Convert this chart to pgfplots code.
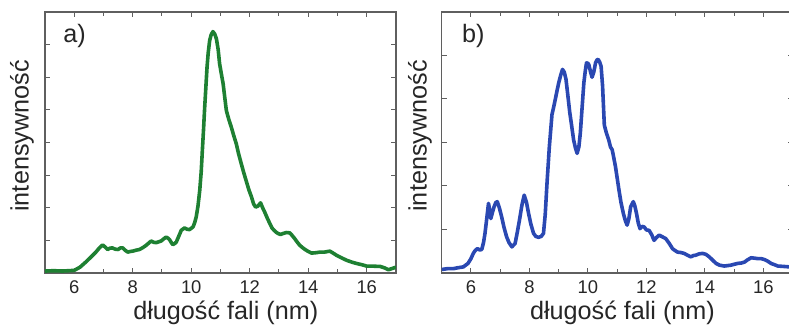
\documentclass[border=0pt]{standalone}
\usepackage{pgfplots}
\pgfplotsset{compat=1.18}
\usepackage{fontspec}
\setmainfont{Liberation Sans}
\definecolor{cgreen}{RGB}{30,128,50}
\definecolor{cblue}{RGB}{42,72,178}
\definecolor{axgray}{RGB}{95,95,95}
\pgfplotsset{
  spec/.style={
    scale only axis, width=175.5pt, height=130.5pt,
    xmin=5, xmax=17, xtick={6,8,...,16}, minor xtick={5,7,...,17},
    ymin=0,
    yticklabels={},
    tick align=inside, major tick length=2.5pt, minor tick length=2pt,
    every tick/.style={axgray, line width=0.5pt},
    axis line style={axgray, line width=0.6pt},
    /pgf/number format/assume math mode=true,
    tick label style={font=\fontsize{9.2}{10}\selectfont, text=black!85},
    xticklabel style={yshift=-0.5pt},
    label style={font=\fontsize{12.6}{14}\selectfont, text=black!85},
    xlabel={długość fali (nm)},
    ylabel={intensywność},
    xlabel style={at={(axis description cs:0.515,0)}, anchor=north, yshift=-14pt, inner sep=0pt},
    clip=true,
  }
}
\begin{document}
\begin{tikzpicture}
\begin{axis}[spec, at={(22.5pt,28.5pt)}, anchor=south west,
  ymax=8, ytick={0,1,...,8},
  ylabel style={at={([xshift=-11.5pt]axis description cs:0,0.525)}, anchor=center, inner sep=0pt}]
\addplot[cgreen, line width=1.8pt, line join=round] coordinates {
(5.0,0.06) (5.3,0.07) (5.6,0.06) (5.8,0.07) (6.0,0.08) (6.2,0.18) (6.4,0.34) (6.55,0.47) (6.74,0.64) (6.85,0.76) (6.97,0.86)
(7.05,0.80) (7.14,0.72) (7.22,0.76) (7.3,0.77) (7.4,0.73) (7.5,0.72) (7.58,0.77) (7.66,0.77) (7.75,0.69) (7.83,0.64)
(7.92,0.66) (8.0,0.67) (8.12,0.70) (8.23,0.72) (8.35,0.78) (8.46,0.85) (8.55,0.92) (8.63,0.98) (8.72,0.94) (8.8,0.93)
(8.9,0.96) (8.97,0.98) (9.05,1.04) (9.14,1.10) (9.2,1.07) (9.26,1.02) (9.32,0.93) (9.37,0.87) (9.43,0.90) (9.49,0.95)
(9.57,1.12) (9.66,1.31) (9.77,1.38) (9.86,1.34) (9.94,1.33) (10.06,1.41) (10.12,1.55) (10.17,1.72) (10.23,2.05)
(10.29,2.53) (10.34,3.1) (10.38,3.76) (10.42,4.4) (10.46,5.09) (10.5,5.7) (10.54,6.31) (10.58,6.75) (10.63,7.13)
(10.68,7.30) (10.74,7.40) (10.8,7.33) (10.86,7.18) (10.92,6.85) (10.97,6.41) (11.03,6.1) (11.09,5.80) (11.15,5.35)
(11.2,4.98) (11.28,4.72) (11.37,4.47) (11.45,4.22) (11.54,3.96) (11.62,3.65) (11.71,3.35) (11.8,3.06) (11.89,2.79)
(11.97,2.55) (12.06,2.33) (12.13,2.12) (12.2,2.02) (12.28,2.05) (12.37,2.15) (12.44,2.00) (12.51,1.87) (12.6,1.68)
(12.69,1.51) (12.76,1.38) (12.83,1.31) (12.9,1.25) (12.97,1.21) (13.05,1.18) (13.14,1.21) (13.25,1.24) (13.37,1.23)
(13.45,1.15) (13.54,1.05) (13.62,0.95) (13.71,0.85) (13.8,0.78) (13.89,0.72) (14.0,0.66) (14.11,0.61) (14.25,0.62)
(14.4,0.64) (14.55,0.64) (14.74,0.67) (14.85,0.61) (14.97,0.54) (15.15,0.46) (15.31,0.39) (15.5,0.33) (15.66,0.29)
(15.85,0.25) (16.0,0.21) (16.2,0.21) (16.46,0.20) (16.6,0.16) (16.74,0.10) (16.88,0.14) (17.0,0.18)
};
\node[anchor=west, font=\fontsize{12.6}{14}\selectfont, text=black!85, inner sep=0pt] at (axis description cs:0,1) [xshift=9pt, yshift=-12pt] {a)};
\end{axis}
\begin{axis}[spec, at={(220.85pt,28.5pt)}, anchor=south west,
  ymax=6, ytick={0,1,...,6},
  ylabel style={at={([xshift=-10.9pt]axis description cs:0,0.525)}, anchor=center, inner sep=0pt}]
\addplot[cblue, line width=1.8pt, line join=round] coordinates {
(5.0,0.08) (5.2,0.10) (5.4,0.10) (5.55,0.12) (5.74,0.14) (5.9,0.22) (6.0,0.33) (6.08,0.45) (6.15,0.52) (6.22,0.56)
(6.3,0.53) (6.37,0.54) (6.43,0.70) (6.48,0.91) (6.54,1.25) (6.6,1.60) (6.64,1.45) (6.68,1.25) (6.73,1.38) (6.79,1.52)
(6.85,1.62) (6.9,1.64) (6.97,1.50) (7.05,1.29) (7.13,1.05) (7.22,0.83) (7.3,0.70) (7.4,0.60) (7.51,0.68) (7.58,0.92)
(7.66,1.22) (7.74,1.55) (7.82,1.79) (7.9,1.62) (7.97,1.37) (8.05,1.12) (8.14,0.91) (8.22,0.84) (8.31,0.82) (8.4,0.84)
(8.48,0.91) (8.54,1.35) (8.6,2.06) (8.68,2.9) (8.77,3.64) (8.83,3.82) (8.88,3.98) (8.94,4.18) (9.0,4.37) (9.07,4.55)
(9.13,4.68) (9.19,4.62) (9.25,4.45) (9.31,4.10) (9.38,3.68) (9.45,3.35) (9.51,3.06) (9.57,2.88) (9.63,2.75) (9.69,2.90)
(9.74,3.22) (9.8,3.80) (9.86,4.37) (9.91,4.65) (9.95,4.83) (10.0,4.82) (10.03,4.79) (10.09,4.62) (10.14,4.50)
(10.2,4.62) (10.26,4.83) (10.31,4.90) (10.35,4.91) (10.4,4.85) (10.45,4.75) (10.5,4.30) (10.56,3.40) (10.63,3.22)
(10.71,3.06) (10.77,2.90) (10.83,2.83) (10.88,2.66) (10.94,2.45) (11.0,2.18) (11.06,1.91) (11.13,1.62) (11.21,1.37)
(11.28,1.20) (11.34,1.10) (11.4,1.25) (11.46,1.52) (11.55,1.64) (11.6,1.55) (11.66,1.37) (11.72,1.15) (11.78,1.02)
(11.85,1.07) (11.92,1.06) (12.0,0.99) (12.09,0.98) (12.18,0.88) (12.26,0.75) (12.35,0.82) (12.43,0.87) (12.55,0.83)
(12.66,0.79) (12.78,0.68) (12.89,0.56) (12.97,0.52) (13.06,0.48) (13.18,0.47) (13.29,0.45) (13.4,0.41) (13.52,0.37)
(13.6,0.40) (13.69,0.41) (13.8,0.44) (13.92,0.45) (14.03,0.43) (14.15,0.37) (14.27,0.29) (14.38,0.22) (14.5,0.18)
(14.66,0.16) (14.78,0.17) (14.89,0.18) (15.0,0.20) (15.12,0.22) (15.25,0.23) (15.35,0.25) (15.45,0.30) (15.58,0.35)
(15.7,0.34) (15.81,0.33) (15.92,0.33) (16.03,0.31) (16.15,0.27) (16.26,0.22) (16.38,0.19) (16.49,0.16) (16.7,0.15)
(16.89,0.14) (17.0,0.13)
};
\node[anchor=west, font=\fontsize{12.6}{14}\selectfont, text=black!85, inner sep=0pt] at (axis description cs:0,1) [xshift=10pt, yshift=-12pt] {b)};
\end{axis}
\pgfresetboundingbox
\useasboundingbox (0,0) rectangle (394.5pt,165pt);
\end{tikzpicture}
\end{document}
